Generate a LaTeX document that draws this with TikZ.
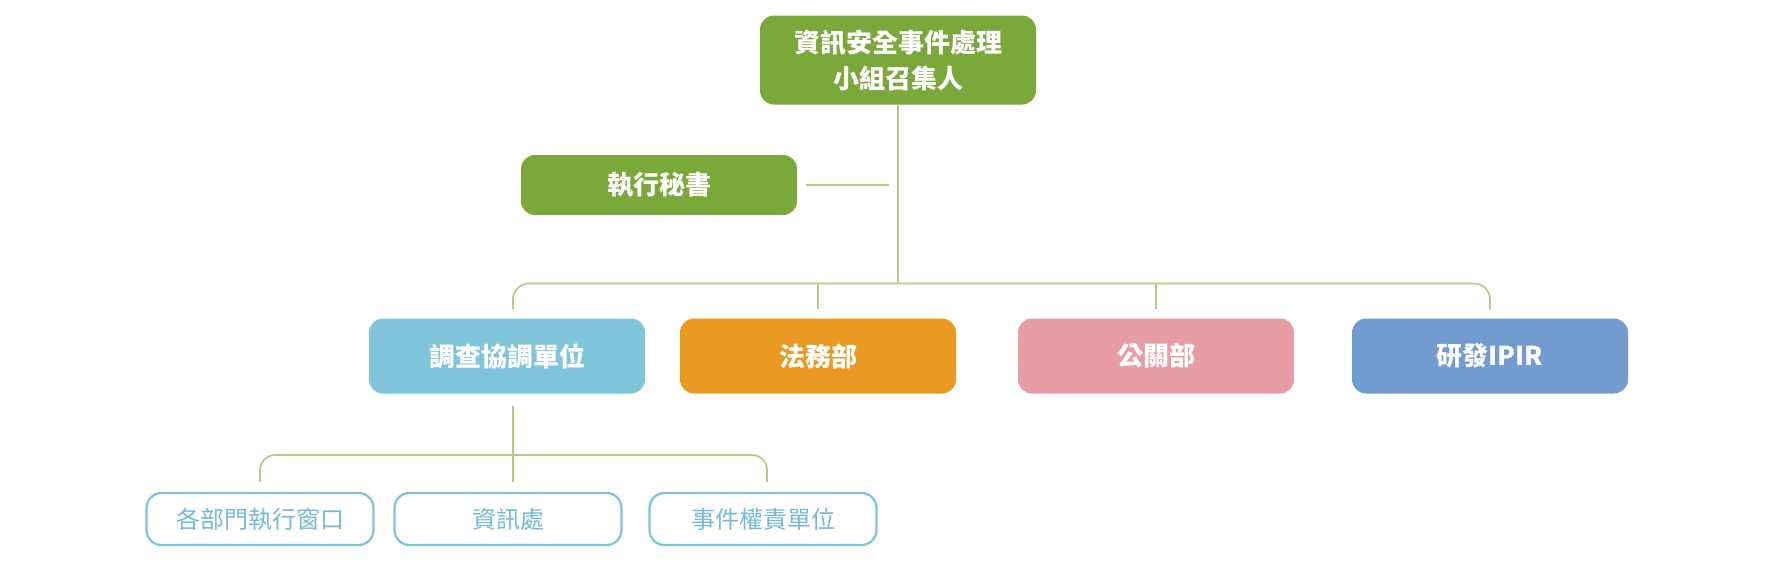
\documentclass[tikz,border=0pt]{standalone}
\usepackage{fontspec}
\newfontfamily\cjk{Noto Sans CJK TC}
\usetikzlibrary{positioning, calc}
\definecolor{leaf}{RGB}{122,168,58}
\definecolor{sky}{RGB}{128,196,218}
\definecolor{amber}{RGB}{232,154,34}
\definecolor{rose}{RGB}{232,157,164}
\definecolor{steel}{RGB}{114,155,207}
\definecolor{twig}{RGB}{188,200,138}
\definecolor{skytext}{RGB}{118,186,212}
\tikzset{
  unit/.style={rounded corners=14pt, minimum width=276pt, minimum height=75pt, text=white, align=center,
    font=\cjk\bfseries\fontsize{26pt}{36pt}\selectfont},
  subunit/.style={draw=sky, line width=2.2pt, fill=white, rounded corners=15pt, minimum width=227pt,
    minimum height=52pt, text=skytext, font=\cjk\fontsize{24pt}{30pt}\selectfont},
  link/.style={draw=twig, line width=1.7pt},
}

\begin{document}
\begin{tikzpicture}[x=1pt, y=-1pt]
  \useasboundingbox (0,0) rectangle (1771,566);
  \node[unit, fill=leaf, minimum height=89pt] (head) at (898,60) {資訊安全事件處理\\小組召集人};
  \node[unit, fill=leaf, minimum height=60pt] (sec) at (659,185) {執行秘書};
  \node[unit, fill=sky] (inv) at (507,356) {調查協調單位};
  \node[unit, fill=amber] (legal) at (818,356) {法務部};
  \node[unit, fill=rose] (pr) at (1156,356) {公關部};
  \node[unit, fill=steel] (rd) at (1490,356) {研發IPIR};
  \node[subunit] (dept) at (260,519) {各部門執行窗口};
  \node[subunit] (it) at (508,519) {資訊處};
  \node[subunit] (owner) at (763,519) {事件權責單位};
  \coordinate (bus) at (898,283.5);
  \coordinate (subbus) at (513,455);
  \path[link] (head) -- (bus);
  \path[link, shorten <=9pt, shorten >=9pt] (sec.east) -- (sec.east -| head.south);
  \path[link, rounded corners=16pt, shorten <=9pt, shorten >=9pt] ([xshift=6pt]inv.north) |- (bus) -| (rd.north);
  \path[link, shorten >=9pt] (legal.north |- bus) -- (legal.north);
  \path[link, shorten >=9pt] (pr.north |- bus) -- (pr.north);
  \path[link, shorten <=12pt, shorten >=10pt] ([xshift=6pt]inv.south) -- ([xshift=5pt]it.north);
  \path[link, rounded corners=15pt, shorten <=10pt, shorten >=10pt] (dept.north) |- (subbus) -| ([xshift=4pt]owner.north);
\end{tikzpicture}
\end{document}
